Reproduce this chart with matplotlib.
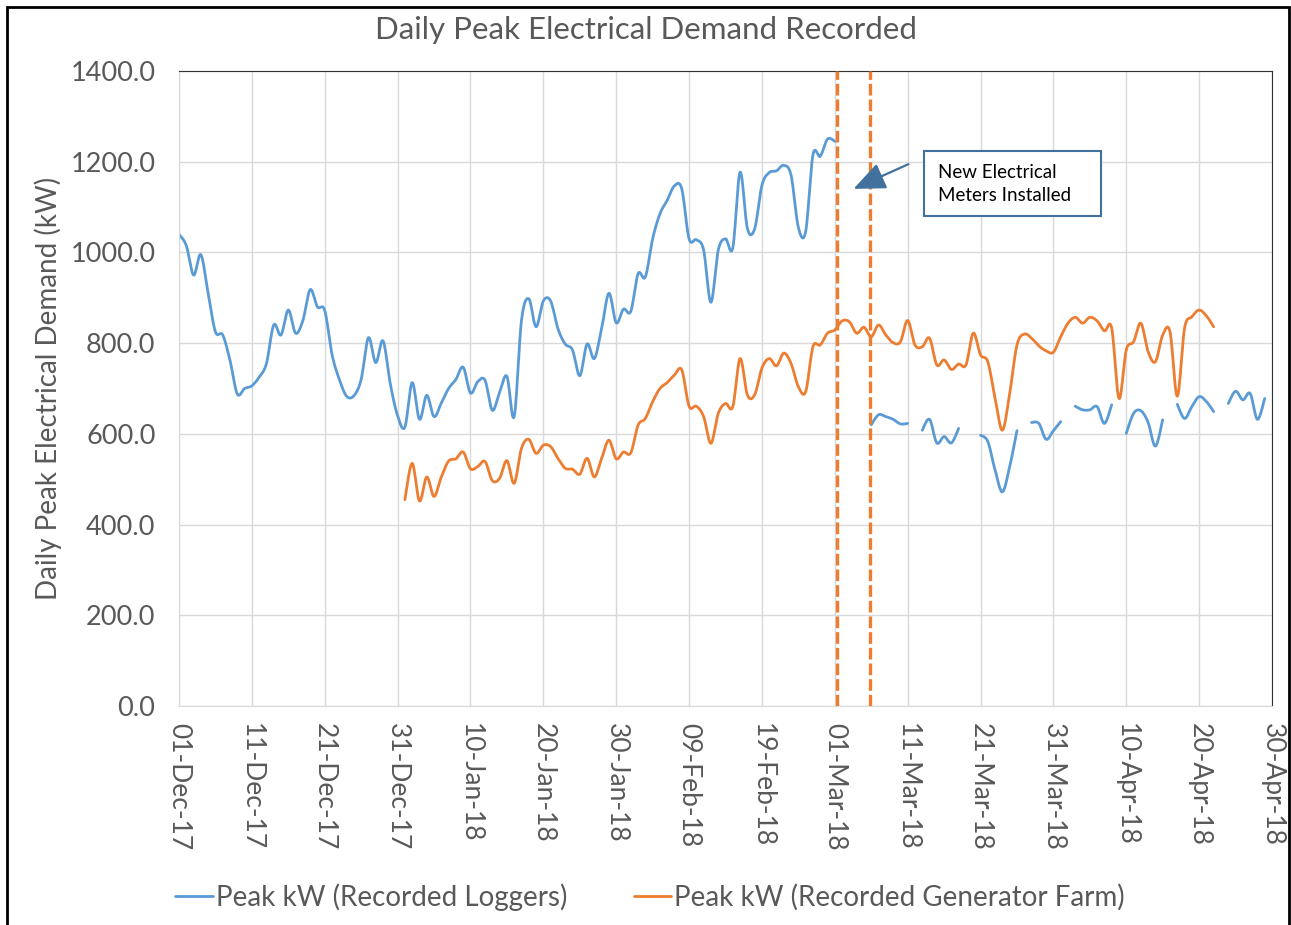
import numpy as np
import pandas as pd
import matplotlib
matplotlib.use('Agg')
import matplotlib.pyplot as plt
from matplotlib.patches import Rectangle

plt.rcParams['font.family'] = ['Lato', 'DejaVu Sans']

# daily values, day 0 = 01-Dec-17
blue_days = list(range(0, 150))
blue_kw = [1040, 1015, 950, 995, 910, 825, 818, 762, 688, 700,
           706, 725, 755, 840, 818, 873, 822, 850, 918, 880,
           872, 775, 720, 683, 684, 720, 812, 757, 805, 710,
           640, 615, 713, 632, 685, 638, 668, 700, 720, 747,
           690, 715, 718, 652, 692, 727, 638, 850, 898, 836,
           893, 893, 832, 798, 785, 728, 798, 766, 832, 910,
           845, 875, 870, 953, 946, 1030, 1085, 1115, 1147, 1140,
           1030, 1028, 1005, 890, 1005, 1030, 1010, 1177, 1053, 1052,
           1148, 1176, 1180, 1192, 1170, 1055, 1046, 1215, 1212, 1250,
           1245, None, None, None, None, 620, 642, 638, 632, 622,
           623, None, 608, 632, 580, 594, 580, 612, None, None,
           597, 583, 520, 472, 528, 607, None, 625, 623, 588,
           607, 627, None, 661, 653, 653, 660, 623, 664, None,
           601, 645, 651, 625, 573, 631, None, 665, 634, 660,
           682, 671, 649, None, 667, 694, 675, 689, 632, 678]

orange_days = list(range(31, 143))
orange_kw = [455, 535, 452, 505, 462, 505, 540, 545, 560,
             523, 528, 539, 497, 502, 541, 491, 568, 588, 557,
             575, 572, 546, 524, 522, 511, 546, 505, 546, 586,
             545, 560, 558, 619, 634, 671, 700, 713, 730, 741,
             661, 661, 638, 579, 645, 667, 660, 766, 686, 686,
             745, 766, 750, 778, 755, 704, 693, 792, 796, 822,
             829, 849, 847, 822, 835, 814, 840, 818, 801, 803,
             850, 796, 792, 811, 752, 763, 742, 754, 752, 822,
             774, 759, 678, 608, 689, 796, 820, 811, 794, 783,
             780, 814, 844, 857, 844, 857, 849, 827, 833, 678,
             785, 803, 844, 781, 759, 818, 825, 683, 833, 858,
             873, 860, 836]

meter_lines = [90.3, 94.8]
tick_dates = pd.date_range('2017-12-01', '2018-04-30', freq='10D')
y_ticks = [0, 200, 400, 600, 800, 1000, 1200, 1400]

BLUE = '#5B9BD5'
ORANGE = '#ED7D31'
GREY = '#595959'


def smooth_segments(days, vals, n=14):
    # catmull-rom through each run of consecutive values (like Excel smoothed line)
    segs, cur = [], []
    for d, v in zip(days, vals):
        if v is None:
            if cur:
                segs.append(cur)
            cur = []
        else:
            cur.append((d, v))
    if cur:
        segs.append(cur)
    out = []
    for s in segs:
        p = np.array(s, dtype=float)
        if len(p) < 2:
            out.append(p)
            continue
        p = np.vstack([p[0], p, p[-1]])
        t = np.linspace(0, 1, n)[:, None]
        pts = []
        for i in range(1, len(p) - 2):
            p0, p1, p2, p3 = p[i - 1], p[i], p[i + 1], p[i + 2]
            c = 0.5 * (2 * p1 + (-p0 + p2) * t + (2 * p0 - 5 * p1 + 4 * p2 - p3) * t ** 2
                       + (-p0 + 3 * p1 - 3 * p2 + p3) * t ** 3)
            pts.append(c if i == 1 else c[1:])
        out.append(np.vstack(pts))
    return out


fig = plt.figure(figsize=(12.91, 9.25), dpi=100)
ax = fig.add_axes([179 / 1291, 1 - 706 / 925, (1272 - 179) / 1291, (706 - 71) / 925])

for k, seg in enumerate(smooth_segments(blue_days, blue_kw)):
    ax.plot(seg[:, 0], seg[:, 1], color=BLUE, lw=2.0, solid_capstyle='round',
            label='Peak kW (Recorded Loggers)' if k == 0 else None)
for seg in smooth_segments(orange_days, orange_kw):
    ax.plot(seg[:, 0], seg[:, 1], color=ORANGE, lw=2.0, solid_capstyle='round',
            label='Peak kW (Recorded Generator Farm)')

for x in meter_lines:
    ax.axvline(x, color=ORANGE, lw=2.4, dashes=(3.5, 1.2), zorder=3)

ax.set_xlim(0, 150)
ax.set_ylim(0, 1400)
ax.set_xticks(np.arange(0, 151, 10))
ax.set_xticklabels(tick_dates.strftime('%d-%b-%y'), rotation=270, fontsize=19, color=GREY)
ax.set_yticks(y_ticks)
ax.set_yticklabels(['%.1f' % v for v in y_ticks], fontsize=19.5, color=GREY)
ax.tick_params(axis='y', length=0, pad=17)
ax.tick_params(axis='x', length=0, pad=12)
ax.grid(True, color='#d9d9d9', lw=1.0)
ax.set_axisbelow(True)
for side in ['left', 'bottom']:
    ax.spines[side].set_color('#d9d9d9')
for side in ['top', 'right']:
    ax.spines[side].set_color('#333333')

ax.set_ylabel('Daily Peak Electrical Demand (kW)', fontsize=20, color=GREY, labelpad=6)
fig.text(646 / 1291, 1 - 30 / 925, 'Daily Peak Electrical Demand Recorded',
         ha='center', va='center', fontsize=22.5, color=GREY)

leg = fig.legend(loc='center', bbox_to_anchor=(650 / 1291, 1 - 897 / 925), ncol=2,
                 frameon=False, fontsize=20, handlelength=1.35, handletextpad=0.1,
                 columnspacing=2.4)
for t in leg.get_texts():
    t.set_color(GREY)

# annotation box
fig.patches.append(Rectangle((924 / 1291, 1 - 216 / 925), 177 / 1291, 65 / 925,
                             transform=fig.transFigure, facecolor='white',
                             edgecolor='#41719C', lw=1.5, zorder=5))
fig.text(938 / 1291, 1 - 184 / 925, 'New Electrical\nMeters Installed',
         ha='left', va='center', fontsize=13.5, color='black', linespacing=1.45, zorder=6)
ax.annotate('', xy=(851, 925 - 190), xytext=(911, 925 - 163),
            xycoords='figure pixels', textcoords='figure pixels',
            arrowprops=dict(arrowstyle='-|>,head_length=1.4,head_width=0.6',
                            color='#41719C', lw=1.6, mutation_scale=14))

# outer chart border
fig.patches.append(Rectangle((7 / 1291, -0.02), 1282 / 1291, 1.02 - 7 / 925,
                             transform=fig.transFigure, fill=False,
                             edgecolor='black', lw=2))

fig.savefig('out.png', dpi=100)
